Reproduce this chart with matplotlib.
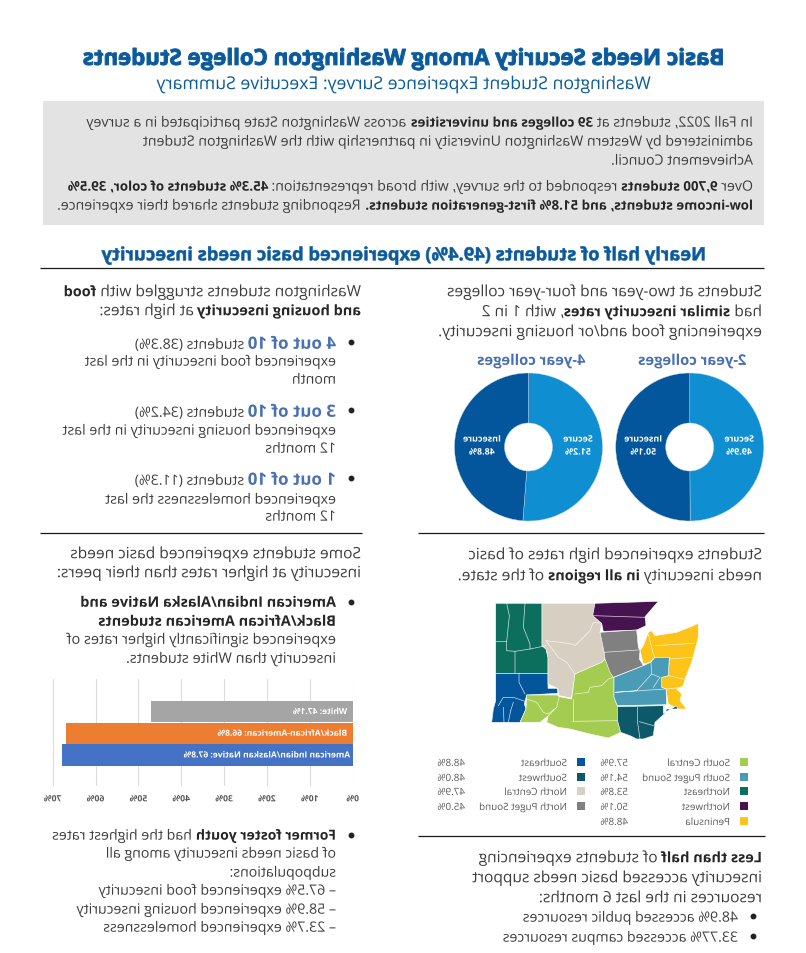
import matplotlib
matplotlib.use('Agg')
import matplotlib.pyplot as plt
from matplotlib.font_manager import FontProperties
from matplotlib.patches import Polygon, Rectangle
from matplotlib.patheffects import AbstractPathEffect
from matplotlib.transforms import Affine2D

W, H = 806, 954
BODY = '#3d3d3d'; DARK = '#262626'; BLUE = '#0b5a9c'; NUM = '#4a70b4'; GREY = '#595959'
FONT = 'Open Sans'

# ---------- data ----------
donut_labels = ['Secure', 'Insecure']
two_year = [49.9, 50.1]
four_year = [51.2, 48.8]
donut_colors = ['#0f8fd2', '#03569b']

bar_cats = ['American Indian/Alaskan Native', 'Black/African-American', 'White']
bar_vals = [67.8, 66.8, 47.1]
bar_colors = ['#4472c4', '#ed7d31', '#a5a5a5']
bar_ticks = [0, 10, 20, 30, 40, 50, 60, 70]

legend_a = ['South Central', 'South Puget Sound', 'Northeast', 'Northwest', 'Peninsula']
legend_a_vals = ['57.9%', '54.1%', '53.8%', '50.1%', '48.8%']
legend_a_cols = ['#a4cc50', '#4a9bb5', '#0c6f5e', '#46124f', '#fcc419']
legend_b = ['Southeast', 'Southwest', 'North Central', 'North Puget Sound']
legend_b_vals = ['48.8%', '48.0%', '47.9%', '45.0%']
legend_b_cols = ['#03569b', '#0d5969', '#d6cfc2', '#808080']

region_shapes = {
    'Northeast': [(47,28),(186,28),(186,155),(198,165),(204,190),(204,238),(47,238)],
    'Southeast': [(47,238),(204,238),(204,283),(233,283),(233,298),(140,303),(133,330),(138,345),(120,385),(35,385),(40,345),(47,320)],
    'North Central': [(186,28),(345,28),(338,65),(365,88),(360,115),(375,170),(375,195),(365,205),(285,240),(275,312),(237,305),(233,283),(204,270),(204,190),(198,165),(186,155)],
    'South Central': [(285,240),(365,205),(375,195),(402,250),(402,310),(412,335),(412,378),(422,415),(385,432),(330,420),(270,405),(235,400),(200,385),(205,365),(180,385),(120,385),(138,345),(140,303),(233,303),(237,308),(275,315)],
    'Northwest': [(345,28),(535,22),(495,68),(498,95),(470,108),(370,112),(365,88),(338,65)],
    'North Puget Sound': [(360,115),(470,108),(475,160),(480,170),(478,195),(490,215),(400,250),(390,235),(375,195),(372,172)],
    'Peninsula': [(655,88),(655,130),(635,205),(615,255),(610,275),(590,285),(605,300),(600,320),(620,345),(595,345),(565,330),(558,285),(545,280),(545,250),(565,245),(568,190),(525,190),(510,205),(490,210),(480,170),(490,155),(505,115),(515,110),(525,125),(590,115),(640,95)],
    'South Puget Sound': [(490,215),(512,205),(525,190),(568,190),(565,245),(545,250),(545,280),(558,285),(560,332),(412,335),(402,310),(402,250)],
    'Southwest': [(412,338),(550,335),(550,358),(590,335),(592,345),(560,345),(555,358),(525,385),(520,425),(490,435),(470,435),(450,425),(422,415),(412,378)],
}
region_colors = dict(zip(legend_a + legend_b, legend_a_cols + legend_b_cols))
county_lines = [
    [(47,143),(80,143),(80,170),(105,172),(105,238)], [(105,172),(150,165),(198,155)],
    [(80,28),(88,65),(80,143)], [(135,28),(130,100),(150,150),(150,165)],
    [(117,238),(117,265),(135,300)], [(55,335),(70,310),(100,310),(135,322)],
    [(70,340),(72,385)], [(92,350),(85,385)], [(100,325),(92,350)],
    [(198,140),(240,145),(275,150),(285,155),(330,110),(340,85),(365,88)],
    [(198,140),(235,190),(260,205),(285,240)],
    [(278,382),(412,380)], [(278,382),(278,315)], [(205,365),(230,340),(237,310)],
    [(140,315),(170,325),(190,355),(205,360),(230,340)],
    [(285,300),(325,295),(330,280),(365,275),(385,255),(400,250)],
    [(340,65),(495,70)], [(372,175),(475,168)],
    [(525,155),(640,148)], [(505,120),(520,180),(525,190)], [(568,195),(635,190)],
    [(565,245),(610,255)], [(560,285),(610,280)],
    [(513,205),(515,240),(470,290),(405,295),(555,285)], [(515,240),(540,250),(520,280)],
    [(472,340),(472,380),(480,435)], [(478,383),(520,395)],
]

# ---------- helpers ----------
fig = plt.figure(figsize=(W/100, H/100), dpi=100, facecolor='white')
renderer = fig.canvas.get_renderer()
ax = fig.add_axes([0, 0, 1, 1]); ax.set_xlim(0, W); ax.set_ylim(H, 0); ax.axis('off')
ax.set_zorder(10)


class Mirror(AbstractPathEffect):
    """Draws a text's glyphs reflected about the centre of its own box."""
    def __init__(self, text, stroke=0.0):
        super().__init__()
        self.text = text; self.stroke = stroke

    def draw_path(self, r, gc, tpath, affine, rgbFace=None):
        box = self.text.get_window_extent(r)
        cx = (box.x0 + box.x1) / 2
        flip = Affine2D().translate(-cx, 0).scale(-1, 1).translate(cx, 0)
        gc2 = r.new_gc(); gc2.copy_properties(gc)
        gc2.set_linewidth(self.stroke)
        if self.stroke:
            gc2.set_foreground(rgbFace)
        r.draw_path(gc2, tpath, affine + flip, rgbFace)
        gc2.restore()


def mirror(t, stroke=0.0):
    t.set_path_effects([Mirror(t, stroke)])
    return t


def prop(size, bold=False):
    return FontProperties(family=FONT, size=size, weight='bold' if bold else 'normal')


def adv(s, fp):
    f = lambda q: renderer.get_text_width_height_descent(q, fp, False)[0]
    return f('.' + s + '.') - f('..')


def line(x, y, segs, align='right', stroke=0.0):
    """Writes one line from right to left. x is its right edge (or centre), y its mid height.
    Each segment is (text, bold, colour, size)."""
    total = sum(adv(s[0], prop(s[3], s[1])) for s in segs)
    right = x + total / 2 if align == 'center' else x
    size = max(s[3] for s in segs)
    base = y + size / 0.72 * 0.40
    for s, bd, c, z in segs:
        fp = prop(z, bd)
        lead = adv(s[:len(s) - len(s.lstrip())], fp) if s != s.lstrip() else 0
        mirror(ax.text(right - lead, base, s.strip(), fontproperties=fp, color=c,
                       ha='right', va='baseline'), stroke)
        right -= adv(s, fp)


def n(s, z):
    return (s, False, BODY, z)


def b(s, z):
    return (s, True, DARK, z)


def rule(x0, x1, y):
    ax.plot([x0, x1], [y, y], color='#1a1a1a', lw=0.9, solid_capstyle='butt')


def bullet(x, y):
    ax.plot([x], [y], 'o', ms=3.2, color='#222222')


def sub_axes(x0, y0, x1, y1):
    return fig.add_axes([x0 / W, 1 - y1 / H, (x1 - x0) / W, (y1 - y0) / H])


# ---------- header ----------
line(403, 57, [('Basic Needs Security Among Washington College Students', True, BLUE, 16.0)], align='center', stroke=0.7)
line(403, 83, [('Washington Student Experience Survey: Executive Summary', False, BLUE, 12.75)], align='center')
gray = Rectangle((43, 102), 721, 124, color='#e3e3e3', lw=0, zorder=0)
ax.add_patch(gray)
S = 10.2; SB = 9.6
line(753, 122, [n('In Fall 2022, students at ', S), b('39 colleges and universities', SB),
                n(' across Washington State participated in a survey', S)])
line(753, 141, [n('administered by Western Washington University in partnership with the Washington Student', S)])
line(753, 160, [n('Achievement Council.', S)])
line(753, 186, [n('Over ', S), b('9,700 students', SB), n(' responded to the survey, with broad representation: ', S),
                b('45.3% students of color, 39.5%', SB)])
line(753, 205, [b('low-income students, and 51.8% first-generation students.', SB),
                n(' Responding students shared their experience.', S)])
line(403, 254, [('Nearly half of students (49.4%) experienced basic needs insecurity', True, BLUE, 13.2)], align='center', stroke=0.35)
rule(40, 764, 269)

# ---------- right column, donuts ----------
T = 11.2; TB = 10.4; U = 10.2; UB = 10.0
line(762, 291, [n('Students at two-year and four-year colleges', T)])
line(762, 311, [n('had ', T), b('similar insecurity rates', TB), n(', with 1 in 2', T)])
line(762, 331, [n('experiencing food and/or housing insecurity.', T)])
line(692, 360, [('2-year colleges', True, NUM, 10.6)], align='center')
line(531, 360, [('4-year colleges', True, NUM, 10.6)], align='center')

for cx, vals in [(689.7, two_year), (528.5, four_year)]:
    a = sub_axes(cx - 74, 448 - 74, cx + 74, 448 + 74)
    a.pie(vals, colors=donut_colors, startangle=90, counterclock=False, radius=1,
          wedgeprops=dict(width=1 - 24 / 74, edgecolor='#bcd8ea', linewidth=0.3))
    a.set_xlim(-1, 1); a.set_ylim(-1, 1); a.axis('off')
    for lab, val, off in zip(donut_labels, vals, (49.5, -46.5)):
        line(cx + off, 439, [(lab, True, 'white', 6.4)], align='center')
        line(cx + off, 452, [(f'{val}%', True, 'white', 6.4)], align='center')

# ---------- left column, list ----------
line(361, 291, [n('Washington students struggled with ', T), b('food', TB)])
line(361, 310, [b('and housing insecurity', TB), n(' at high rates:', T)])
items = [(343, '4 out of 10', ' students (38.3%)', ['experienced food insecurity in the last', 'month'], (361, 379)),
         (411, '3 out of 10', ' students (34.2%)', ['experienced housing insecurity in the last', '12 months'], (430, 448)),
         (479, '1 out of 10', ' students (11.3%)', ['experienced homelessness the last', '12 months'], (499, 516))]
for y, head, rest, more, ys in items:
    bullet(351, y)
    line(336, y, [(head, True, NUM, 12.2), n(rest, U)])
    for m, yy in zip(more, ys):
        line(336, yy, [n(m, U)])
rule(40, 362, 534)
rule(418, 764, 534)

# ---------- left column, bars ----------
line(361, 553, [n('Some students experienced basic needs', T)])
line(361, 572, [n('insecurity at higher rates than their peers:', T)])
bullet(351, 603)
line(336, 602, [b('American Indian/Alaska Native and', TB)])
line(336, 621, [b('Black/African American students', TB)])
line(336, 639, [n('experienced significantly higher rates of', 10.45)])
line(336, 658, [n('insecurity than White students.', 10.45)])

bx = sub_axes(52.7, 680, 352.7, 787)
bx.set_xlim(70, 0); bx.set_ylim(-1.43, 3.5)
bx.barh(range(3), bar_vals, height=0.98, color=bar_colors, zorder=3)
bx.set_xticks(bar_ticks, [f'{t}%' for t in bar_ticks])
bx.set_yticks([])
bx.grid(axis='x', color='#dddddd', lw=0.8, zorder=0)
bx.tick_params(axis='x', length=0, pad=6, labelsize=6.2, labelcolor=GREY)
for sp in bx.spines.values():
    sp.set_visible(False)
for lb in bx.get_xticklabels():
    lb.set_fontproperties(prop(6.2, True)); mirror(lb)
for i, (c, v) in enumerate(zip(bar_cats, bar_vals)):
    mirror(bx.text(1.3 if i else 0.6, i, f'{c}: {v}%', color='white', ha='right', va='center',
                   fontproperties=prop(6.1, True), zorder=4))

# ---------- left column, foster youth ----------
bullet(351, 836)
line(336, 835, [b('Former foster youth', UB), n(' had the highest rates', U)])
line(336, 853, [n('of basic needs insecurity among all', U)])
line(336, 872, [n('subpopulations:', U)])
line(336, 890, [n('– 67.5% experienced food insecurity', U)])
line(336, 909, [n('– 58.9% experienced housing insecurity', U)])
line(336, 927, [n('– 23.7% experienced homelessness', U)])

# ---------- right column, map ----------
line(762, 554, [n('Students experienced high rates of basic', T)])
line(762, 575, [n('needs insecurity ', T), b('in all regions', TB), n(' of the state.', T)])
mx = sub_axes(480, 595, 710, 745)
mx.set_xlim(0, 690); mx.set_ylim(450, 0); mx.axis('off')
for name, pts in region_shapes.items():
    mx.add_patch(Polygon(pts, closed=True, facecolor=region_colors[name], edgecolor='white', lw=0.4))
for pts in county_lines:
    xs, ys = zip(*pts)
    mx.plot(xs, ys, color='white', lw=0.5, alpha=0.8)

L = 7.1
for names, vals, cols, sw, tx, vx in [(legend_a, legend_a_vals, legend_a_cols, 740, 730, 628),
                                      (legend_b, legend_b_vals, legend_b_cols, 577, 567, 465)]:
    for nm, v, c, y in zip(names, vals, cols, (763, 778, 792, 807, 822)):
        ax.add_patch(Rectangle((sw, y - 4), 8, 8, color=c, lw=0))
        line(tx, y, [(nm, False, GREY, L)])
        line(vx, y, [(v, False, GREY, L)])
rule(418, 765, 837)

line(762, 857, [b('Less than half', TB), n(' of students experiencing', T)])
line(762, 877, [n('insecurity accessed basic needs support', T)])
line(762, 897, [n('resources in the last 6 months:', T)])
bullet(753, 917); line(738, 917, [n('48.9% accessed public resources', U)])
bullet(753, 937); line(738, 937, [n('33.77% accessed campus resources', U)])

fig.savefig('out.png', dpi=100, facecolor='white')
